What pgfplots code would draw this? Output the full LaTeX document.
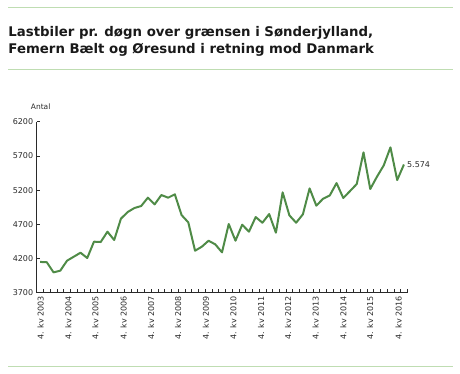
\documentclass[border=0pt]{standalone}
\usepackage{fontspec}
\setmainfont{DejaVu Sans}
\usepackage{pgfplots}
\pgfplotsset{compat=1.18}
\definecolor{linegreen}{HTML}{4F8B47}
\definecolor{rulegreen}{HTML}{BFDDB2}
\definecolor{axisgray}{HTML}{2A2A2A}
\begin{document}
\begin{tikzpicture}
\path[use as bounding box] (0pt,0pt) rectangle (460pt,373pt);
\draw[rulegreen, line width=0.9pt] (8.3pt,366pt) -- (453pt,366pt);
\draw[rulegreen, line width=0.9pt] (8.3pt,303.7pt) -- (453pt,303.7pt);
\draw[rulegreen, line width=0.9pt] (8.3pt,7pt) -- (453pt,7pt);
\node[anchor=base west, inner sep=0pt, font=\bfseries\fontsize{13.3}{15}\selectfont, text=black!90] at (8.3pt,336pt) {Lastbiler pr. døgn over grænsen i Sønderjylland,};
\node[anchor=base west, inner sep=0pt, font=\bfseries\fontsize{13.3}{15}\selectfont, text=black!90] at (8.3pt,319.7pt) {Femern Bælt og Øresund i retning mod Danmark};
\node[anchor=base west, inner sep=0pt, font=\fontsize{7.5}{8}\selectfont, text=axisgray] at (30.7pt,264pt) {Antal};
\begin{axis}[
  at={(36.7pt,80.3pt)}, anchor=south west,
  scale only axis, width=370.6pt, height=171pt,
  xmin=-0.5, xmax=54.5, ymin=3700, ymax=6200,
  axis x line*=bottom, axis y line*=left,
  axis line style={-, axisgray, line width=0.8pt},
  tick align=inside,
  tick style={axisgray, line width=0.6pt},
  major tick length=3.5pt,
  ytick={3700,4200,4700,5200,5700,6200},
  yticklabel style={font=\fontsize{8}{9}\selectfont, text=axisgray, /pgf/number format/1000 sep={}, /pgf/number format/assume math mode=true},
  xtick={-0.5,0.5,...,54.5},
  xticklabels={},
  extra x ticks={0.1,4.2,8.2,12.4,16.5,20.5,24.6,28.7,32.8,36.8,40.9,45.0,49.0,53.2},
  extra x tick labels={4. kv 2003,4. kv 2004,4. kv 2005,4. kv 2006,4. kv 2007,4. kv 2008,4. kv 2009,4. kv 2010,4. kv 2011,4. kv 2012,4. kv 2013,4. kv 2014,4. kv 2015,4. kv 2016},
  extra x tick style={major tick length=0pt, xticklabel style={rotate=90, anchor=east, font=\fontsize{8}{9}\selectfont, text=axisgray}},
  clip=false,
]
\addplot[linegreen, line width=2pt, line join=round] table[x=i, y=v] {
i v
0 4150
1 4145
2 3997
3 4022
4 4168
5 4226
6 4285
7 4207
8 4446
9 4441
10 4592
11 4470
12 4782
13 4879
14 4938
15 4967
16 5089
17 4991
18 5128
19 5089
20 5138
21 4835
22 4728
23 4314
24 4372
25 4460
26 4407
27 4290
28 4704
29 4460
30 4694
31 4592
32 4806
33 4723
34 4850
35 4577
36 5167
37 4831
38 4723
39 4845
40 5225
41 4972
42 5074
43 5123
44 5303
45 5084
46 5186
47 5289
48 5752
49 5216
50 5396
51 5561
52 5825
53 5347
54 5574
};
\node[anchor=west, font=\fontsize{8}{9}\selectfont, text=axisgray, inner sep=0pt] at (axis cs:54,5574) {\hspace{3pt}5.574};
\end{axis}
\end{tikzpicture}
\end{document}
